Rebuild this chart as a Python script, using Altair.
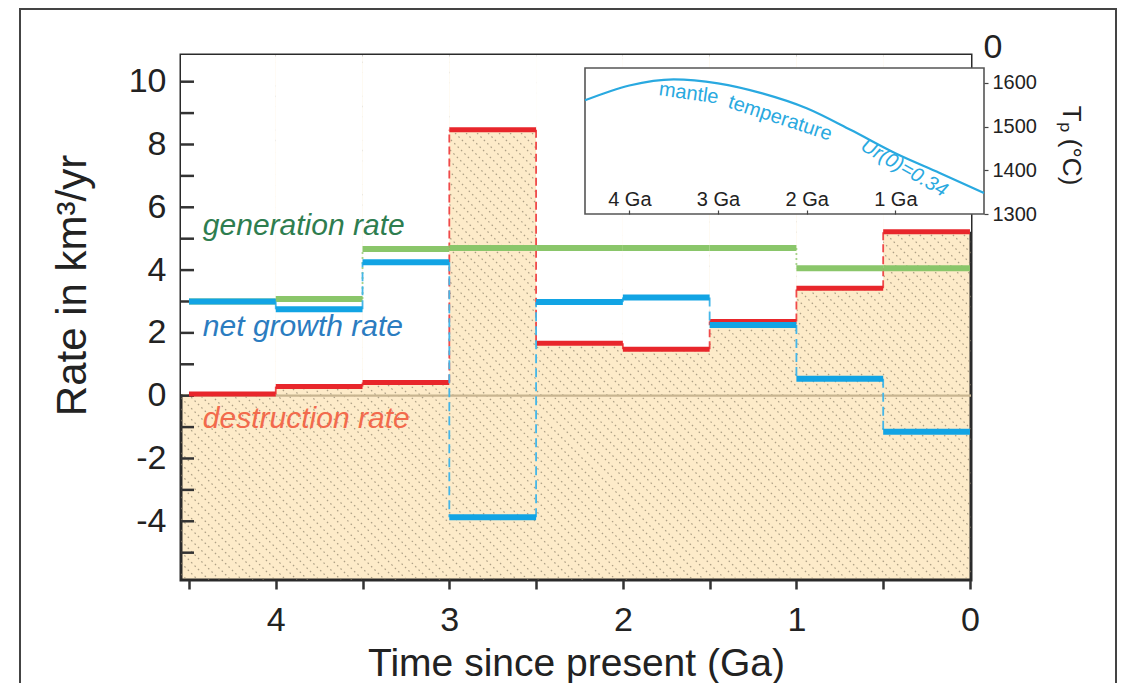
import altair as alt
import pandas as pd
import numpy as np

# ---------------- data ----------------
edges = [4.5, 4.0, 3.5, 3.0, 2.5, 2.0, 1.5, 1.0, 0.5, 0.0]
generation = [3.00, 3.08, 4.67, 4.70, 4.70, 4.70, 4.70, 4.06, 4.06]
net_growth = [3.00, 2.75, 4.25, -3.87, 2.98, 3.13, 2.25, 0.54, -1.15]
destruction = [0.05, 0.29, 0.42, 8.47, 1.67, 1.48, 2.36, 3.42, 5.22]

x_ticks = [4.5, 4.0, 3.5, 3.0, 2.5, 2.0, 1.5, 1.0, 0.5, 0.0]
y_labels = [-4, -2, 0, 2, 4, 6, 8, 10]
y_minor = list(range(-5, 11))

inset_time = [4.5, 4.0, 3.5, 3.0, 2.5, 2.0, 1.5, 1.0, 0.5, 0.0]
inset_temp = [1560, 1594, 1608, 1599, 1576, 1542, 1492, 1439, 1394, 1348]
inset_x_ticks = [4, 3, 2, 1]
inset_y_ticks = [1300, 1400, 1500, 1600]

# ---------------- layout constants ----------------
PLOT_W, PLOT_H = 790, 525
X_MIN, X_MAX = -0.006, 4.546
Y_MIN, Y_MAX = -5.87, 10.85
T_MIN, T_MAX = 1300, 1634
FONT = "Liberation Sans"

RED, BLUE, GREEN = "#e8262b", "#12a4e4", "#8ac66a"
RED_L, BLUE_L, GREEN_L = "#f04a4a", "#45b6e8", "#a6d38a"
FILL = "#fdebc9"

X_SCALE = alt.Scale(domain=[X_MIN, X_MAX], reverse=True, nice=False, zero=False)
Y_SCALE = alt.Scale(domain=[Y_MIN, Y_MAX], nice=False, zero=False)

X_AX = alt.Axis(values=x_ticks, orient="bottom", grid=False, domain=False,
                labelExpr="datum.value % 1 == 0 ? format(datum.value, 'd') : ''",
                tickSize=9, tickWidth=2.5, tickColor="#333",
                labelFontSize=34, labelColor="#222", labelPadding=14, labelFont=FONT,
                title="Time since present (Ga)", titleFontSize=39, titleFont=FONT,
                titleFontWeight="normal", titleColor="#222", titleY=95,
                titleBaseline="alphabetic")
Y_AX = alt.Axis(values=y_labels, orient="left", grid=False, domain=False, ticks=False,
                tickSize=0, labelExpr="'' + datum.value",
                labelFontSize=34, labelColor="#222", labelPadding=15, labelFont=FONT,
                title="Rate in km³/yr", titleFontSize=42, titleFont=FONT,
                titleFontWeight="normal", titleColor="#222",
                titleAngle=270, titleX=-109, titleY=230, titleAlign="center",
                titleBaseline="middle")


def X(f):
    return alt.X(f, type="quantitative", scale=X_SCALE, axis=X_AX)


def Y(f):
    return alt.Y(f, type="quantitative", scale=Y_SCALE, axis=Y_AX)


# ---------------- derived tables ----------------
kx = PLOT_W / (X_MAX - X_MIN)
ky = PLOT_H / (Y_MAX - Y_MIN)
hatch_rows = []
for c in np.arange(-PLOT_W, PLOT_H, 11.0):
    px0 = max(0.0, -c)
    px1 = min(float(PLOT_W), PLOT_H - c)
    if px1 <= px0:
        continue
    hatch_rows.append({
        "t0": X_MAX - px0 / kx, "v0": Y_MAX - (px0 + c) / ky,
        "t1": X_MAX - px1 / kx, "v1": Y_MAX - (px1 + c) / ky,
    })
hatch_df = pd.DataFrame(hatch_rows)

n = len(destruction)
cover_df = pd.DataFrame({
    "t0": [X_MAX if i == 0 else edges[i] for i in range(n)],
    "t1": [X_MIN if i == n - 1 else edges[i + 1] for i in range(n)],
    "v0": destruction,
    "v1": [Y_MAX] * n,
})


def steps(vals):
    return pd.DataFrame({"t0": edges[:-1], "t1": edges[1:], "v": vals})


def joins(vals):
    return pd.DataFrame({"t": edges[1:-1], "a": vals[:-1], "b": vals[1:]})


# ---------------- main layers ----------------
frame = alt.Chart(pd.DataFrame({"k": [0]})).mark_rect(
    fillOpacity=0, stroke="#444", strokeWidth=2
).encode(x=alt.value(-161), x2=alt.value(935), y=alt.value(-46), y2=alt.value(720))

hatch = alt.Chart(hatch_df).mark_rule(
    clip=True, color="#8a7f68", strokeWidth=1.2, strokeDash=[1.6, 3.2], opacity=0.7
).encode(x=X("t0"), y=Y("v0"), x2="t1", y2="v1")

cover = alt.Chart(cover_df).mark_rect(color="white", clip=True).encode(
    x=X("t0"), x2="t1", y=Y("v0"), y2="v1")

zero = alt.Chart(pd.DataFrame({"v": [0]})).mark_rule(
    color="#c8b590", strokeWidth=2.2).encode(y=Y("v"))

minor = alt.Chart(pd.DataFrame({"v": y_minor})).mark_rule(
    color="#333", strokeWidth=2.5).encode(y=Y("v"), x=alt.value(0), x2=alt.value(13))


def series(vals, col, col_l, width, dash):
    j = alt.Chart(joins(vals)).mark_rule(
        color=col_l, strokeWidth=1.8, strokeDash=dash).encode(
        x=X("t"), y=Y("a"), y2="b")
    s = alt.Chart(steps(vals)).mark_rule(
        color=col, strokeWidth=width, strokeCap="butt").encode(
        x=X("t0"), x2="t1", y=Y("v"))
    return [j, s]


red_layers = series(destruction, RED, RED_L, 5, [8, 4])
green_layers = series(generation, GREEN, GREEN_L, 6, [2, 3])
blue_layers = series(net_growth, BLUE, BLUE_L, 6, [9, 5])

labels_df = pd.DataFrame({
    "t": [4.42, 4.42, 4.42],
    "v": [5.13, 1.89, -1.03],
    "txt": ["generation rate", "net growth rate", "destruction rate"],
    "col": ["#2e7d4f", "#2b7cc0", "#f26a4c"],
})
labels = alt.Chart(labels_df).mark_text(
    align="left", baseline="alphabetic", fontSize=30, fontStyle="italic", font=FONT
).encode(x=X("t"), y=Y("v"), text="txt:N", color=alt.Color("col:N", scale=None))

zero_top = alt.Chart(pd.DataFrame({"t": [-0.133], "v": [11.07], "txt": ["0"]})).mark_text(
    fontSize=34, font=FONT, color="#222", align="center", baseline="middle"
).encode(x=X("t"), y=Y("v"), text="txt:N")

main = alt.layer(frame, hatch, cover, zero, minor, *red_layers, *green_layers,
                 *blue_layers, labels, zero_top)

# ---------------- inset ----------------
IX_SCALE = alt.Scale(domain=[0, 4.5], range=[803, 404], nice=False, zero=False)
IY_SCALE = alt.Scale(domain=[T_MIN, T_MAX], range=[159, 13], nice=False, zero=False)
IX_AX = alt.Axis(orient="top", offset=-159, values=inset_x_ticks, grid=False, domain=False,
                 labelExpr="datum.value + ' Ga'", tickSize=4, tickWidth=1.2,
                 tickColor="#444", labelFontSize=20, labelColor="#222",
                 labelPadding=1, labelFont=FONT, title=None, zindex=2)
IY_AX = alt.Axis(orient="right", offset=13, values=inset_y_ticks, grid=False, domain=False,
                 labelExpr="format(datum.value, 'd')",
                 tickSize=4, tickWidth=1.2, tickColor="#444",
                 labelFontSize=20, labelColor="#222", labelPadding=4, labelFont=FONT,
                 title="T\u209a (°C)", titleFontSize=26, titleFont=FONT,
                 titleFontWeight="normal", titleColor="#222", titleAngle=90,
                 titleX=86, titleY=90, titleAlign="center", titleBaseline="middle",
                 zindex=2)


def IX(f):
    return alt.X(f, type="quantitative", scale=IX_SCALE, axis=IX_AX)


def IY(f):
    return alt.Y(f, type="quantitative", scale=IY_SCALE, axis=IY_AX)


box = alt.Chart(pd.DataFrame({"a": [4.5], "b": [0.0], "c": [T_MIN], "d": [T_MAX]})).mark_rect(
    fill="white", stroke="#555", strokeWidth=1.6).encode(
    x=IX("a"), x2="b", y=IY("c"), y2="d")

curve = alt.Chart(pd.DataFrame({"t": inset_time, "T": inset_temp})).mark_line(
    color="#29a9e0", strokeWidth=2.2, interpolate="monotone").encode(
    x=IX("t"), y=IY("T"))

itext_df = pd.DataFrame({
    "t": [3.33, 2.30, 0.90],
    "T": [1576, 1519, 1405],
    "txt": ["mantle", "temperature", "Ur(0)=0.34"],
    "ang": [8, 18, 30],
    "sty": ["normal", "normal", "italic"],
})
itexts = []
for _, r in itext_df.iterrows():
    itexts.append(
        alt.Chart(itext_df[itext_df.txt == r.txt]).mark_text(
            fontSize=20, font=FONT, color="#29a9e0", angle=int(r.ang),
            fontStyle=r.sty, align="center", baseline="middle"
        ).encode(x=IX("t"), y=IY("T"), text="txt:N")
    )

inset = alt.layer(box, curve, *itexts)

chart = alt.layer(main, inset).resolve_scale(x="independent", y="independent").properties(
    width=PLOT_W, height=PLOT_H,
    autosize=alt.AutoSizeParams(type="none"),
    padding={"left": 173, "top": 47, "right": 148, "bottom": 103},
    background="white",
).configure_view(fill=FILL, stroke="#2a2a2a", strokeWidth=3)

chart.save("out.html", embed_options={"renderer": "svg", "actions": False})
